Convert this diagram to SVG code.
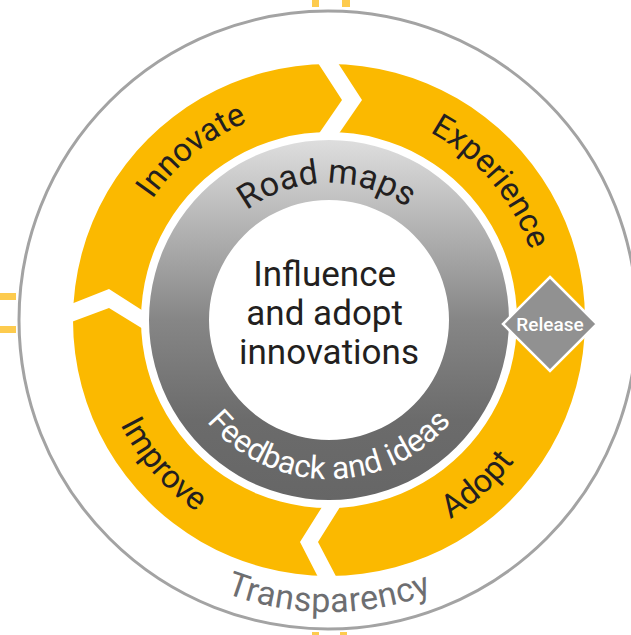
<svg xmlns="http://www.w3.org/2000/svg" width="631" height="635" viewBox="0 0 631 635">
<defs>
<linearGradient id="ringGrad" gradientUnits="userSpaceOnUse" x1="0" y1="140" x2="0" y2="500">
<stop offset="0" stop-color="#dedede"/>
<stop offset="0.5" stop-color="#868686"/>
<stop offset="0.78" stop-color="#6b6b6b"/>
<stop offset="1" stop-color="#666666"/>
</linearGradient>
<path id="pInnovate" d="M151.6,439.7 A214,214 0 0 1 482.9,171.3"/>
<path id="pExperience" d="M205.3,146.6 A213,213 0 0 1 480.9,469.3"/>
<path id="pRoad" d="M192.3,310.4 A137,137 0 0 1 465.2,305.7"/>
<path id="pImprove" d="M161.4,158.1 A233,233 0 0 0 466.0,508.5"/>
<path id="pAdopt" d="M170.1,490.4 A233,233 0 0 0 515.1,179.8"/>
<path id="pFeedback" d="M170.6,333.9 A159,159 0 0 0 487.4,333.9"/>
<path id="pTransp" d="M38.1,345.4 A292,292 0 0 0 619.9,345.4"/>
</defs>
<style>
.lbl{font-family:Roboto,"Liberation Sans",sans-serif;}
.stage{font-size:32.5px;fill:#231f20;}
.stub{fill:#fdcb4e;}
.gap{fill:#ffffff;}
</style>
<rect width="631" height="635" fill="#ffffff"/>
<g id="stubs">
<rect class="stub" x="312" y="0" width="7" height="7"/>
<rect class="stub" x="342" y="0" width="8" height="7"/>
<rect class="stub" x="0" y="293" width="16" height="7"/>
<rect class="stub" x="0" y="326" width="16" height="7"/>
<rect class="stub" x="312" y="632" width="7" height="3"/>
<rect class="stub" x="340" y="632" width="7" height="3"/>
</g>
<g id="transparency">
<circle cx="328" cy="320" r="309" fill="none" stroke="#a3a3a3" stroke-width="3"/>
<text class="lbl" font-size="34" letter-spacing="0.6" fill="#6d6e71" text-anchor="middle"><textPath href="#pTransp" startOffset="50%">Transparency</textPath></text>
</g>
<g id="cycle-ring">
<path d="M329,64 A256,256 0 1 1 328.99,64 Z M329,132 A188,188 0 1 0 329.01,132 Z" fill="#fbb900" fill-rule="evenodd"/>
<polygon class="gap" points="312.8,55 342,100 314.5,140 334.5,140 362,100 332.8,55"/>
<polygon class="gap" points="66,306 109,289 148,314 148,332 109,308 66,324"/>
<polygon class="gap" points="326.4,500 300,542 321.6,584 340,584 318,542 344.4,500"/>
</g>
<g id="innovate"><text class="lbl stage" text-anchor="middle"><textPath href="#pInnovate" startOffset="50%">Innovate</textPath></text></g>
<g id="experience"><text class="lbl stage" text-anchor="middle"><textPath href="#pExperience" startOffset="50%">Experience</textPath></text></g>
<g id="adopt"><text class="lbl stage" text-anchor="middle"><textPath href="#pAdopt" startOffset="50%">Adopt</textPath></text></g>
<g id="improve"><text class="lbl stage" text-anchor="middle"><textPath href="#pImprove" startOffset="50%">Improve</textPath></text></g>
<g id="inner-ring">
<path d="M329,140 A180,180 0 1 1 328.99,140 Z M329,200 A120,120 0 1 0 329.01,200 Z" fill="url(#ringGrad)" fill-rule="evenodd"/>
<text class="lbl" font-size="34" fill="#231f20" text-anchor="middle"><textPath href="#pRoad" startOffset="50%">Road maps</textPath></text>
<text class="lbl" font-size="31.5" fill="#ffffff" text-anchor="middle"><textPath href="#pFeedback" startOffset="50%">Feedback and ideas</textPath></text>
</g>
<g id="center">
<text class="lbl" font-size="35" fill="#231f20" text-anchor="middle">
<tspan x="329" y="286">Influence</tspan>
<tspan x="329" y="325">and adopt</tspan>
<tspan x="329" y="364">innovations</tspan>
</text>
</g>
<g id="release">
<polygon points="550,277 597,324 550,371 503,324" fill="#919191" stroke="#ffffff" stroke-width="2.5"/>
<text class="lbl" x="550" y="331" font-size="19" font-weight="500" fill="#ffffff" text-anchor="middle">Release</text>
</g>
</svg>
